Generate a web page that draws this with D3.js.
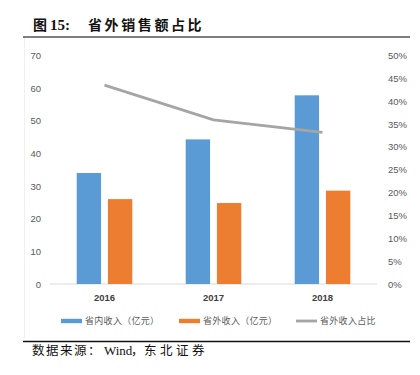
<!DOCTYPE html>
<html lang="zh">
<head>
    <meta charset="UTF-8">
    <title>省外销售额占比</title>
    <script src="https://cdn.jsdelivr.net/npm/d3@7/dist/d3.min.js"></script>
    <style>
        body { margin: 0; background: #fff; }
    </style>
</head>
<body>
<script>
    // data
    let years = ["2016", "2017", "2018"];
    let inProvince = [34, 44.3, 57.8];      // 省内收入（亿元）
    let outProvince = [26, 24.8, 28.6];     // 省外收入（亿元）
    let outShare = [0.435, 0.359, 0.332];   // 省外收入占比
    let leftTicks = [0, 10, 20, 30, 40, 50, 60, 70];
    let rightTicks = [0, 0.05, 0.1, 0.15, 0.2, 0.25, 0.3, 0.35, 0.4, 0.45, 0.5];
    let seriesNames = ["省内收入（亿元）", "省外收入（亿元）", "省外收入占比"];

    let width = 420, height = 375;
    let margin = {top: 55.5, right: 43, bottom: 91, left: 50};
    let cjk = "'Noto Sans CJK SC', 'Noto Sans', sans-serif";
    let colors = ["#5b9bd5", "#ed7d31", "#a5a5a5"];

    let svg = d3.select("body").append("svg")
        .attr("width", width)
        .attr("height", height)
        .style("font-family", cjk);

    // title
    let title = svg.append("g").attr("font-size", 14).attr("font-weight", "bold").attr("fill", "#111");
    title.append("text").attr("x", 33).attr("y", 30).text("图");
    title.append("text").attr("x", 50).attr("y", 30)
        .attr("font-family", "'Liberation Serif', serif").attr("font-size", 15).text("15:");
    title.append("text").attr("x", 88).attr("y", 30)
        .attr("letter-spacing", 2.6).text("省外销售额占比");

    svg.append("line")
        .attr("x1", 23).attr("x2", 410).attr("y1", 37).attr("y2", 37)
        .attr("stroke", "#555").attr("stroke-width", 1.5);

    // faint frame on the left
    svg.append("line")
        .attr("x1", 24.5).attr("x2", 24.5).attr("y1", 38).attr("y2", 338)
        .attr("stroke", "#f0f0f0");

    let x = d3.scaleBand()
        .domain(years)
        .range([margin.left, width - margin.right])
        .paddingInner(0.49)
        .paddingOuter(0.245);

    let xInner = d3.scaleBand()
        .domain([0, 1])
        .range([0, x.bandwidth()])
        .paddingInner(0.22);

    let y = d3.scaleLinear()
        .domain([0, 70])
        .range([height - margin.bottom, margin.top]);

    let y2 = d3.scaleLinear()
        .domain([0, 0.5])
        .range([height - margin.bottom, margin.top]);

    // baseline
    svg.append("line")
        .attr("x1", margin.left).attr("x2", width - margin.right)
        .attr("y1", y(0)).attr("y2", y(0))
        .attr("stroke", "#d9d9d9");

    // left axis
    let yAxis = d3.axisLeft(y).tickValues(leftTicks).tickSize(0).tickPadding(9);
    let gy = svg.append("g")
        .attr("transform", `translate(${margin.left}, 0)`)
        .call(yAxis);
    gy.select(".domain").remove();
    gy.selectAll("text").attr("fill", "#595959").attr("font-size", 9.5)
        .attr("font-family", "'Liberation Sans', Arial, sans-serif");

    // right axis
    let y2Axis = d3.axisRight(y2).tickValues(rightTicks).tickSize(0).tickPadding(11)
        .tickFormat(d3.format(".0%"));
    let gy2 = svg.append("g")
        .attr("transform", `translate(${width - margin.right}, 0)`)
        .call(y2Axis);
    gy2.select(".domain").remove();
    gy2.selectAll("text").attr("fill", "#595959").attr("font-size", 9.5)
        .attr("font-family", "'Liberation Sans', Arial, sans-serif");

    // x axis
    let xAxis = d3.axisBottom(x).tickSize(0).tickPadding(10);
    let gx = svg.append("g")
        .attr("transform", `translate(0, ${y(0)})`)
        .call(xAxis);
    gx.select(".domain").remove();
    gx.selectAll("text").attr("fill", "#404040").attr("font-size", 9.5)
        .attr("font-weight", "bold")
        .attr("font-family", "'Liberation Sans', Arial, sans-serif");

    // bars
    let barSeries = [inProvince, outProvince];
    barSeries.forEach(function (vals, s) {
        svg.append("g").selectAll("rect")
            .data(vals)
            .join("rect")
            .attr("x", (d, i) => x(years[i]) + xInner(s))
            .attr("y", d => y(d))
            .attr("width", xInner.bandwidth())
            .attr("height", d => y(0) - y(d))
            .attr("fill", colors[s]);
    });

    // share line
    let line = d3.line()
        .x((d, i) => x(years[i]) + x.bandwidth() / 2)
        .y(d => y2(d));
    svg.append("path")
        .attr("d", line(outShare))
        .attr("fill", "none")
        .attr("stroke", colors[2])
        .attr("stroke-width", 2.8);

    // legend
    let legendX = [61, 179, 296];
    let legend = svg.append("g");
    seriesNames.forEach(function (name, i) {
        let g = legend.append("g").attr("transform", `translate(${legendX[i]}, 321)`);
        if (i < 2) {
            g.append("rect").attr("x", 0).attr("y", -2.2).attr("width", 21).attr("height", 4.4)
                .attr("fill", colors[i]);
        } else {
            g.append("line").attr("x1", 0).attr("x2", 21).attr("y1", 0).attr("y2", 0)
                .attr("stroke", colors[i]).attr("stroke-width", 2.8);
        }
        g.append("text").attr("x", 24).attr("y", 3.3)
            .attr("font-size", 9).attr("letter-spacing", 0.3).attr("fill", "#595959")
            .text(name);
    });

    // source
    svg.append("line")
        .attr("x1", 23).attr("x2", 410).attr("y1", 341.5).attr("y2", 341.5)
        .attr("stroke", "#111").attr("stroke-width", 1.5);

    let src = svg.append("g").attr("font-size", 12.5).attr("fill", "#111");
    src.append("text").attr("x", 32).attr("y", 355)
        .attr("letter-spacing", 1.5).text("数据来源：");
    src.append("text").attr("x", 104).attr("y", 355)
        .attr("font-family", "'Liberation Serif', serif").attr("font-size", 13).text("Wind");
    src.append("text").attr("x", 131).attr("y", 355).text("，");
    src.append("text").attr("x", 144).attr("y", 355)
        .attr("letter-spacing", 3.5).text("东北证券");
</script>
</body>
</html>
